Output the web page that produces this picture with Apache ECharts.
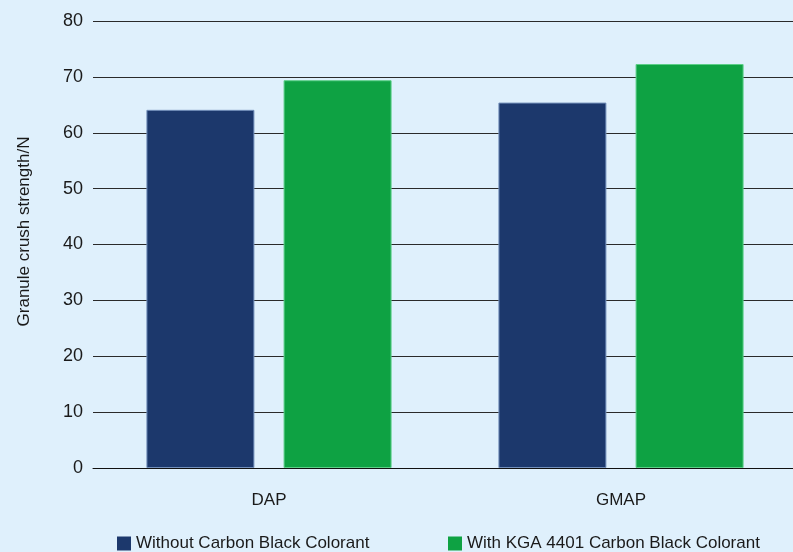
<!DOCTYPE html>
<html>
<head>
<meta charset="utf-8">
<script src="https://cdn.jsdelivr.net/npm/echarts@6/dist/echarts.min.js"></script>
<style>
  html, body { margin: 0; padding: 0; background: #dff0fc; overflow: hidden; }
  /* chart is a bit wider than the window: the plot area runs past the right edge */
  #chart { width: 800px; height: 552px; }
</style>
</head>
<body>
<div id="chart"></div>
<script>
// categories and values
const categories = ['DAP', 'GMAP'];
const withoutColorant = [64.1, 65.4];
const withKga = [69.4, 72.3];
const seriesNames = ['Without Carbon Black Colorant', 'With KGA 4401 Carbon Black Colorant'];

const font = '"Liberation Sans", Arial, sans-serif';

const chart = echarts.init(document.getElementById('chart'));

let legendBase = {
  top: 530,
  icon: 'rect',
  itemWidth: 14, itemHeight: 14,
  itemStyle: { borderWidth: 0 },
  textStyle: { fontSize: 17, color: '#1a1a1a', fontFamily: font }
};

let option = {
  backgroundColor: '#dff0fc',
  animation: false,
  textStyle: { fontFamily: font },
  grid: { left: 93, top: 21, width: 704, height: 447, containLabel: false },
  legend: [
    Object.assign({ data: [seriesNames[0]], left: 112 }, legendBase),
    Object.assign({ data: [seriesNames[1]], left: 443 }, legendBase)
  ],
  xAxis: {
    type: 'category',
    data: categories,
    axisLine: { lineStyle: { color: '#111', width: 1 } },
    axisTick: { show: false },
    axisLabel: { fontSize: 17, color: '#1a1a1a', margin: 24 }
  },
  yAxis: {
    type: 'value',
    min: 0, max: 80, interval: 10,
    name: 'Granule crush strength/N',
    nameLocation: 'middle',
    nameGap: 60,
    nameTextStyle: { fontSize: 17, color: '#1a1a1a', padding: [0, 0, 0, 26] },
    axisLine: { show: false },
    axisTick: { show: false },
    axisLabel: { fontSize: 18, color: '#1a1a1a', margin: 10 },
    splitLine: { lineStyle: { color: '#2a2a2a', width: 1 } }
  },
  series: [
    {
      type: 'bar',
      name: seriesNames[0],
      data: withoutColorant,
      barWidth: 108,
      barGap: '27%',
      itemStyle: { color: '#1c386c', borderColor: '#7390bb', borderWidth: 1 }
    },
    {
      type: 'bar',
      name: seriesNames[1],
      data: withKga,
      barWidth: 108,
      barGap: '27%',
      itemStyle: { color: '#0ea243', borderColor: '#5ccf88', borderWidth: 1 }
    }
  ]
};

chart.setOption(option);
</script>
</body>
</html>
